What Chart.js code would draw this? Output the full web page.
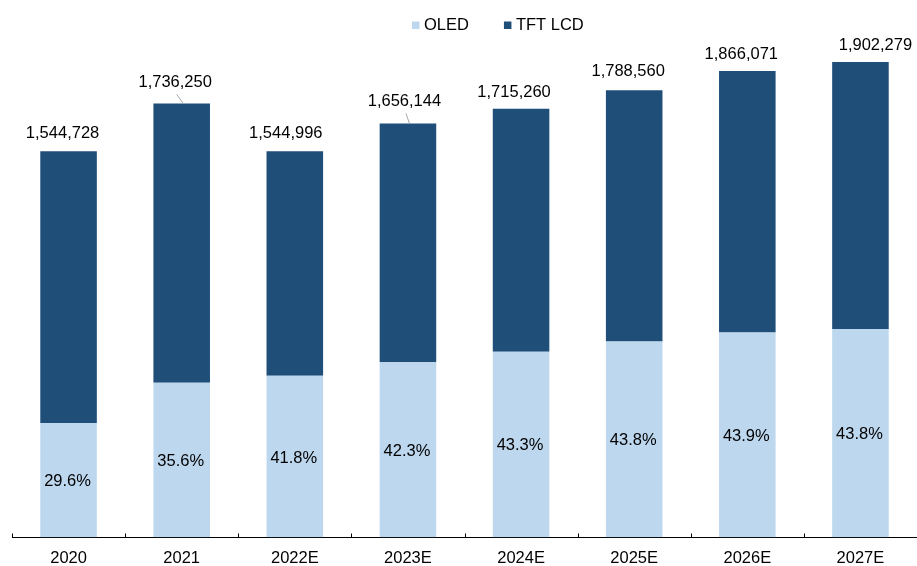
<!DOCTYPE html>
<html>
<head>
<meta charset="utf-8">
<script src="https://cdn.jsdelivr.net/npm/chart.js@4.4.0/dist/chart.umd.min.js"></script>
<style>
  html, body { margin: 0; padding: 0; background: #fff; }
  #wrap { width: 917px; height: 566px; }
</style>
</head>
<body>
<div id="wrap"><canvas id="c"></canvas></div>
<script>
// values
const years = ['2020', '2021', '2022E', '2023E', '2024E', '2025E', '2026E', '2027E'];
const totals = [1544728, 1736250, 1544996, 1656144, 1715260, 1788560, 1866071, 1902279];
const oledShare = ['29.6%', '35.6%', '41.8%', '42.3%', '43.3%', '43.8%', '43.9%', '43.8%'];
const oledUnits = [457239, 618105, 645808, 700549, 742708, 783389, 819205, 833198];
const lcdUnits = [1087489, 1118145, 899188, 955595, 972552, 1005171, 1046866, 1069081];

const FONT = '"Liberation Sans", Arial, sans-serif';

// label offsets (dx, dy above bar top); 2021 and 2023E were dragged, with leader lines
const totalLabelOffsets = [[-6, 18], [-6.5, 21], [-9, 18], [-3.5, 22], [-7, 16.5], [-6, 18.5], [-6, 17], [15, 16]];
const leaderIdx = [1, 3];

const labelsPlugin = {
  id: 'labels',
  afterDatasetsDraw(chart) {
    const ctx = chart.ctx;
    const oledMeta = chart.getDatasetMeta(0);
    const lcdMeta = chart.getDatasetMeta(1);
    ctx.save();
    ctx.font = '16.5px ' + FONT;
    ctx.fillStyle = '#000';
    ctx.textAlign = 'center';
    ctx.textBaseline = 'middle';
    oledMeta.data.forEach((bar, i) => {
      ctx.fillText(oledShare[i], bar.x - 1, (bar.y + bar.base) / 2 + 1.5);
    });
    lcdMeta.data.forEach((bar, i) => {
      const [dx, dy] = totalLabelOffsets[i];
      const lx = bar.x + dx, ly = bar.y - dy;
      ctx.fillText(totals[i].toLocaleString('en-US'), lx, ly);
      if (leaderIdx.includes(i)) {
        ctx.strokeStyle = '#a6a6a6';
        ctx.lineWidth = 1;
        ctx.beginPath();
        ctx.moveTo(lx + 1.5, ly + 12);
        ctx.lineTo(bar.x + 1.5, bar.y);
        ctx.stroke();
      }
    });
    ctx.restore();
  }
};

// small tick marks pointing up from the axis at category boundaries
const axisTicksPlugin = {
  id: 'axisTicks',
  afterDraw(chart) {
    const xs = chart.scales.x;
    const ctx = chart.ctx;
    const y = Math.round(xs.top) + 0.5;
    ctx.save();
    ctx.strokeStyle = '#000';
    ctx.lineWidth = 1;
    ctx.beginPath();
    for (let i = 0; i <= years.length; i++) {
      const a = xs.getPixelForValue(i - 1), b = xs.getPixelForValue(i);
      const bx = i === 0 ? xs.left : (i === years.length ? xs.right : (a + b) / 2);
      const px = Math.round(bx) + 0.5;
      ctx.moveTo(px, y);
      ctx.lineTo(px, y - 4);
    }
    ctx.stroke();
    ctx.restore();
  }
};

const legendPlugin = {
  id: 'topLegend',
  afterDraw(chart) {
    const ctx = chart.ctx;
    ctx.save();
    ctx.font = '16.5px ' + FONT;
    ctx.textBaseline = 'middle';
    let x = 412;
    const y = 25.5;
    chart.data.datasets.forEach(ds => {
      ctx.fillStyle = ds.backgroundColor;
      ctx.fillRect(x, y - 4, 7.5, 7.5);
      ctx.fillStyle = '#000';
      ctx.fillText(ds.label, x + 12, y);
      x += 12 + ctx.measureText(ds.label).width + 35;
    });
    ctx.restore();
  }
};

new Chart(document.getElementById('c'), {
  type: 'bar',
  data: {
    labels: years,
    datasets: [
      { label: 'OLED', data: oledUnits, backgroundColor: '#BDD7EE' },
      { label: 'TFT LCD', data: lcdUnits, backgroundColor: '#1F4E79' }
    ]
  },
  options: {
    responsive: true,
    maintainAspectRatio: false,
    animation: false,
    devicePixelRatio: 1,
    layout: { padding: { top: 40, left: 12, right: -2, bottom: -13 } },
    datasets: { bar: { categoryPercentage: 1, barPercentage: 0.5 } },
    plugins: {
      legend: { display: false },
      tooltip: { enabled: false }
    },
    scales: {
      x: {
        stacked: true,
        grid: { display: false, drawTicks: false },
        border: { display: true, color: '#000', width: 1 },
        ticks: { color: '#000', font: { size: 16.5, family: FONT }, padding: 11, maxRotation: 0, autoSkip: false }
      },
      y: {
        stacked: true,
        display: false,
        min: 0,
        max: 1990000
      }
    }
  },
  plugins: [labelsPlugin, axisTicksPlugin, legendPlugin]
});
</script>
</body>
</html>
